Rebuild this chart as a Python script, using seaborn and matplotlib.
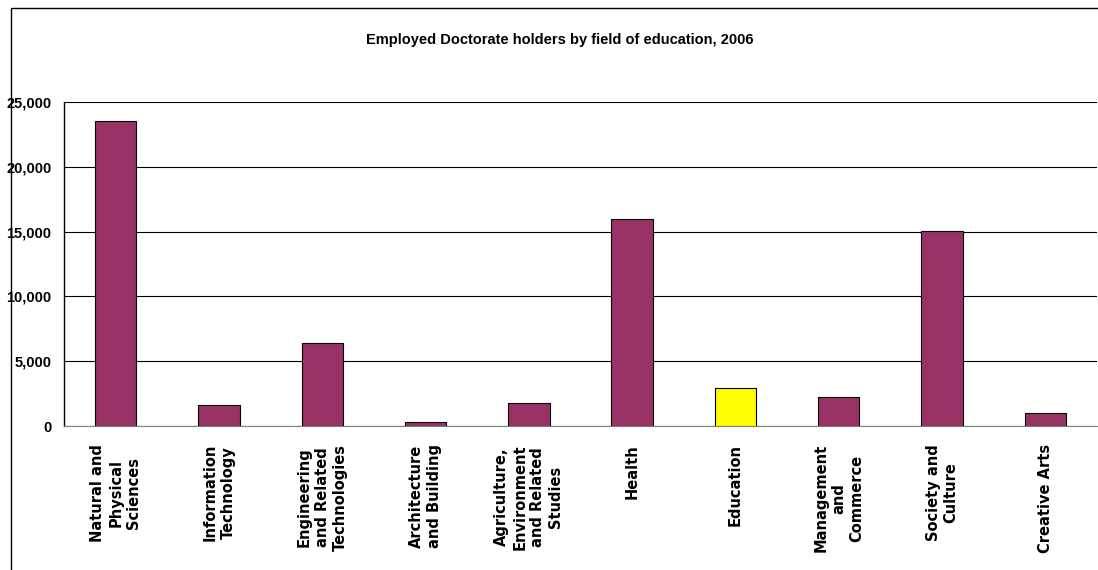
import matplotlib
matplotlib.use("Agg")
import numpy as np
import pandas as pd
import matplotlib.pyplot as plt
import seaborn as sns
from matplotlib.patches import Rectangle
from matplotlib.ticker import FuncFormatter, FixedLocator

# data
fields = [
    "Natural and\nPhysical\nSciences",
    "Information\nTechnology",
    "Engineering\nand Related\nTechnologies",
    "Architecture\nand Building",
    "Agriculture,\nEnvironment\nand Related\nStudies",
    "Health",
    "Education",
    "Management\nand\nCommerce",
    "Society and\nCulture",
    "Creative Arts",
]
holders = [23500, 1600, 6400, 300, 1800, 16000, 2900, 2200, 15050, 1000]
bar_colors = ["#993366"] * 6 + ["#FFFF00"] + ["#993366"] * 3

df = pd.DataFrame({"field": fields, "holders": holders})

sns.set_style("white")
plt.rcParams["font.family"] = ["Liberation Sans", "DejaVu Sans"]
plt.rcParams["text.color"] = "black"
plt.rcParams["xtick.color"] = "black"
plt.rcParams["ytick.color"] = "black"
plt.rcParams["xtick.labelcolor"] = "black"
plt.rcParams["ytick.labelcolor"] = "black"

fig = plt.figure(figsize=(10.98, 5.70), dpi=100)
# outer chart frame (only top and left edges visible)
fig.patches.append(Rectangle((11 / 1098, -0.05), 1.2, 0.05 + 1 - 8 / 570,
                             transform=fig.transFigure, fill=False,
                             edgecolor="black", lw=1.0))

ax = fig.add_axes([64 / 1098, 1 - 426 / 570, (1097 - 64) / 1098, 324 / 570])
sns.barplot(data=df, x="field", y="holders", hue="field", palette=bar_colors,
            saturation=1, width=0.4, edgecolor="black", linewidth=0.8,
            legend=False, ax=ax, zorder=3)

ax.set_xlim(-0.5, len(fields) - 0.5)
ax.set_ylim(0, 25000)
ax.set_yticks(np.arange(0, 25001, 5000))
ax.yaxis.set_major_formatter(FuncFormatter(lambda v, p: f"{int(v):,}"))
ax.grid(axis="y", color="black", lw=0.8, zorder=0)
ax.set_axisbelow(True)

for s in ["top", "right"]:
    ax.spines[s].set_visible(False)
ax.spines["left"].set_color("black")
ax.spines["bottom"].set_color("#808080")
ax.spines["left"].set_linewidth(1.0)

ax.tick_params(axis="y", length=6, width=0.8, labelsize=10.5, pad=3)
for lab in ax.get_yticklabels():
    lab.set_fontweight("bold")

ax.set_xticks(range(len(fields)))
ax.set_xticklabels(fields, rotation=90, fontsize=10.5, fontweight="bold",
                   family="DejaVu Sans", multialignment="center",
                   linespacing=1.25)
ax.tick_params(axis="x", which="major", length=0, pad=13)
ax.xaxis.set_minor_locator(FixedLocator(np.arange(-0.5, len(fields), 1.0)))
ax.tick_params(axis="x", which="minor", length=5, width=0.8, color="black")

ax.set_xlabel("")
ax.set_ylabel("")

fig.text(560 / 1098, 1 - 40 / 570,
         "Employed Doctorate holders by field of education, 2006",
         ha="center", va="center", fontsize=10.5, fontweight="bold")

fig.savefig("out.png", dpi=100)
